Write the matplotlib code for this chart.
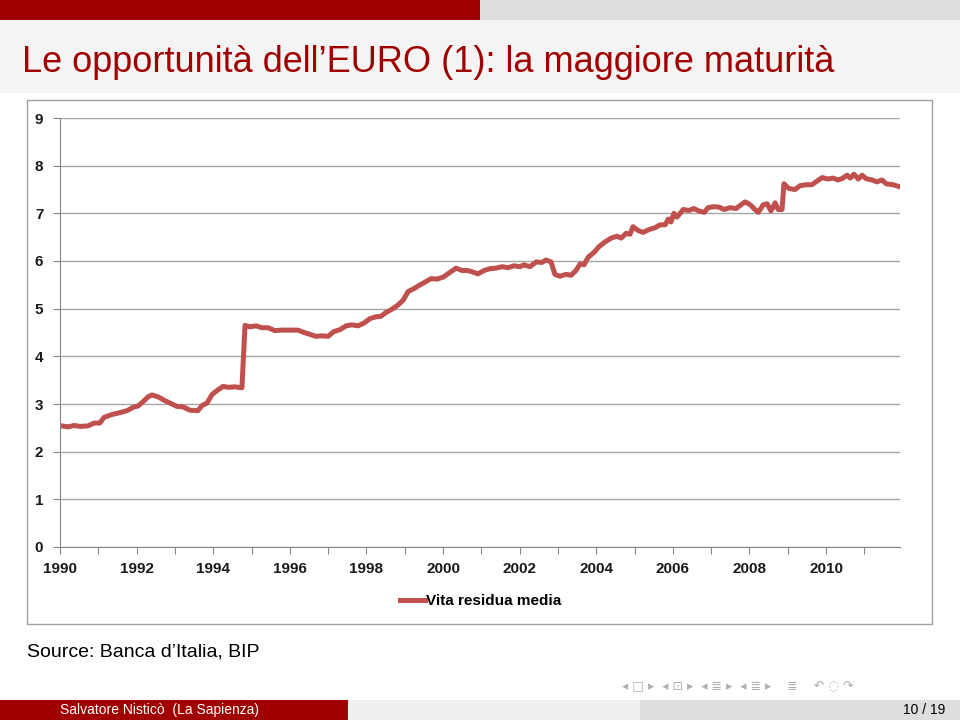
import matplotlib.pyplot as plt
from matplotlib.patches import Rectangle

# values: residual life of public debt (years)
anni = [1990.05, 1990.21, 1990.37, 1990.52, 1990.73, 1990.89, 1991.04, 1991.15,
        1991.36, 1991.57, 1991.75, 1991.91, 1992.04, 1992.17, 1992.30, 1992.40,
        1992.56, 1992.74, 1992.92, 1993.05, 1993.21, 1993.39, 1993.60, 1993.71,
        1993.84, 1993.97, 1994.13, 1994.26, 1994.39, 1994.57, 1994.75, 1994.83,
        1994.96, 1995.12, 1995.27, 1995.43, 1995.61, 1995.80, 1996.01, 1996.21,
        1996.37, 1996.53, 1996.68, 1996.84, 1997.00, 1997.15, 1997.31, 1997.47,
        1997.62, 1997.78, 1997.94, 1998.09, 1998.25, 1998.38, 1998.51, 1998.67,
        1998.83, 1998.96, 1999.09, 1999.24, 1999.40, 1999.56, 1999.69, 1999.84,
        2000.00, 2000.16, 2000.34, 2000.50, 2000.65, 2000.81, 2000.91, 2001.07,
        2001.23, 2001.38, 2001.54, 2001.70, 2001.85, 2002.01, 2002.11, 2002.27,
        2002.43, 2002.58, 2002.69, 2002.82, 2002.92, 2003.05, 2003.21, 2003.34,
        2003.47, 2003.58, 2003.68, 2003.79, 2003.94, 2004.07, 2004.23, 2004.39,
        2004.54, 2004.65, 2004.78, 2004.88, 2004.96, 2005.09, 2005.22, 2005.38,
        2005.54, 2005.67, 2005.80, 2005.88, 2005.95, 2006.03, 2006.11, 2006.27,
        2006.42, 2006.55, 2006.68, 2006.82, 2006.92, 2007.08, 2007.21, 2007.34,
        2007.49, 2007.65, 2007.78, 2007.89, 2008.02, 2008.12, 2008.23, 2008.36,
        2008.46, 2008.56, 2008.67, 2008.75, 2008.85, 2008.90, 2009.03, 2009.19,
        2009.32, 2009.48, 2009.63, 2009.77, 2009.90, 2010.05, 2010.18, 2010.31,
        2010.42, 2010.55, 2010.63, 2010.73, 2010.84, 2010.94, 2011.04, 2011.20,
        2011.33, 2011.46, 2011.57, 2011.75, 2011.91]

vita_residua = [2.54, 2.52, 2.55, 2.53, 2.54, 2.60, 2.60, 2.72,
                2.78, 2.82, 2.86, 2.93, 2.96, 3.05, 3.15, 3.19,
                3.15, 3.07, 3.00, 2.95, 2.94, 2.87, 2.86, 2.97,
                3.02, 3.20, 3.30, 3.37, 3.35, 3.36, 3.34, 4.65,
                4.62, 4.64, 4.60, 4.60, 4.54, 4.55, 4.55, 4.55,
                4.50, 4.46, 4.42, 4.43, 4.42, 4.52, 4.56, 4.64,
                4.66, 4.64, 4.70, 4.79, 4.83, 4.84, 4.92, 4.99,
                5.08, 5.18, 5.36, 5.42, 5.50, 5.57, 5.63, 5.62,
                5.66, 5.75, 5.85, 5.80, 5.80, 5.76, 5.73, 5.80,
                5.84, 5.85, 5.88, 5.86, 5.90, 5.88, 5.92, 5.88,
                5.98, 5.97, 6.02, 5.98, 5.72, 5.68, 5.72, 5.70,
                5.80, 5.94, 5.92, 6.08, 6.18, 6.30, 6.40, 6.48,
                6.52, 6.48, 6.58, 6.56, 6.72, 6.64, 6.60, 6.66,
                6.70, 6.76, 6.76, 6.88, 6.82, 7.00, 6.92, 7.08,
                7.06, 7.10, 7.05, 7.02, 7.12, 7.14, 7.13, 7.08,
                7.12, 7.10, 7.18, 7.24, 7.18, 7.10, 7.02, 7.18,
                7.20, 7.05, 7.22, 7.08, 7.08, 7.62, 7.52, 7.50,
                7.58, 7.60, 7.60, 7.68, 7.75, 7.72, 7.74, 7.70,
                7.73, 7.80, 7.74, 7.82, 7.72, 7.80, 7.73, 7.70,
                7.66, 7.70, 7.62, 7.60, 7.56]

anni_tick = list(range(1990, 2012))
etichette_x = [str(a) if a % 2 == 0 else '' for a in anni_tick]
valori_y = list(range(0, 10))

rosso_beamer = '#a00000'
rosso_linea = '#c0504d'

fig = plt.figure(figsize=(9.6, 7.2), dpi=100)
fig.patch.set_facecolor('white')

# header strips
fig.add_artist(Rectangle((0, 1 - 20/720), 0.5, 20/720, transform=fig.transFigure,
                         facecolor=rosso_beamer, edgecolor='none', zorder=-2))
fig.add_artist(Rectangle((0.5, 1 - 20/720), 0.5, 20/720, transform=fig.transFigure,
                         facecolor='#dedede', edgecolor='none', zorder=-2))
fig.add_artist(Rectangle((0, 1 - 93/720), 1, 73/720, transform=fig.transFigure,
                         facecolor='#f4f4f4', edgecolor='none', zorder=-2))
fig.text(22/960, 1 - 62/720, 'Le opportunità dell’EURO (1): la maggiore maturità',
         color=rosso_beamer, fontsize=26, family='Liberation Sans', va='center')

# chart frame
fig.add_artist(Rectangle((27/960, 1 - 624/720), 905/960, 524/720, transform=fig.transFigure,
                         facecolor='white', edgecolor='#a0a0a0', linewidth=1, zorder=-1))

ax = fig.add_axes([60/960, 1 - 547/720, 840/960, 429/720])
ax.patch.set_alpha(0)
ax.plot(anni, vita_residua, color=rosso_linea, linewidth=3.6,
        solid_joinstyle='round', label='Vita residua media')

ax.set_xlim(1990, 2011.93)
ax.set_ylim(0, 9)
ax.set_xticks(anni_tick)
ax.set_xticklabels(etichette_x)
ax.set_yticks(valori_y)
ax.set_yticklabels([str(v) for v in valori_y])
ax.grid(axis='y', color='#a6a6a6', linewidth=1)
ax.set_axisbelow(True)
for s in ['top', 'right']:
    ax.spines[s].set_visible(False)
for s in ['left', 'bottom']:
    ax.spines[s].set_color('#868686')
ax.tick_params(axis='both', direction='out', length=5, color='#868686',
               labelsize=11, labelcolor='#1a1a1a')
ax.tick_params(axis='x', pad=6)
ax.tick_params(axis='y', pad=7)
for lab in ax.get_xticklabels() + ax.get_yticklabels():
    lab.set_fontweight('bold')
    lab.set_family('Liberation Sans')

leg = fig.legend(loc='center', bbox_to_anchor=(481/960, 1 - 601/720), frameon=False,
                 handlelength=1.6, handletextpad=0.1,
                 prop={'family': 'Liberation Sans', 'weight': 'bold', 'size': 11})

fig.text(27/960, 1 - 652/720, 'Source: Banca d’Italia, BIP', fontsize=14,
         family='Liberation Sans', va='center', color='black')

# navigation symbols
fig.text(622/960, 1 - 686/720, '◂ □ ▸  ◂ ⊡ ▸  ◂ ≣ ▸  ◂ ≣ ▸    ≣    ↶ ◌ ↷',
         fontsize=9, color='#b0b0b0', va='center', family='DejaVu Sans')

# footer
fig.add_artist(Rectangle((0, 0), 348/960, 20/720, transform=fig.transFigure,
                         facecolor=rosso_beamer, edgecolor='none', zorder=-2))
fig.add_artist(Rectangle((348/960, 0), 292/960, 20/720, transform=fig.transFigure,
                         facecolor='#efefef', edgecolor='none', zorder=-2))
fig.add_artist(Rectangle((640/960, 0), 320/960, 20/720, transform=fig.transFigure,
                         facecolor='#dedede', edgecolor='none', zorder=-2))
fig.text(160/960, 10/720, 'Salvatore Nisticò  (La Sapienza)', color='white', fontsize=10,
         family='Liberation Sans', ha='center', va='center')
fig.text(945/960, 10/720, '10 / 19', color='black', fontsize=10,
         family='Liberation Sans', ha='right', va='center')

fig.savefig('out.png', dpi=100)
